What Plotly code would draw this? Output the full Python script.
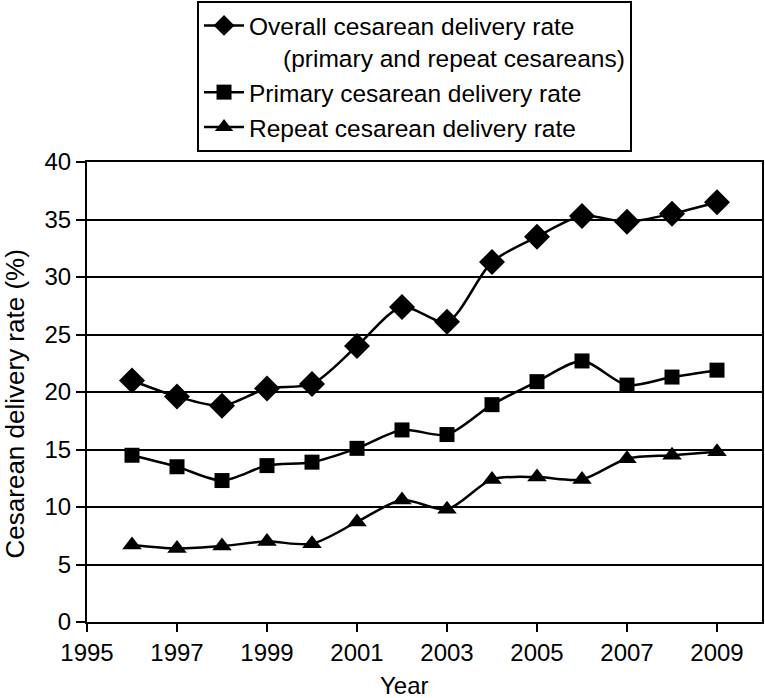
import plotly.graph_objects as go

years = [1996, 1997, 1998, 1999, 2000, 2001, 2002, 2003, 2004, 2005, 2006, 2007, 2008, 2009]
overall = [21.0, 19.6, 18.8, 20.3, 20.7, 24.0, 27.4, 26.1, 31.3, 33.5, 35.3, 34.8, 35.5, 36.5]
primary = [14.5, 13.5, 12.3, 13.6, 13.9, 15.1, 16.7, 16.3, 18.9, 20.9, 22.7, 20.6, 21.3, 21.9]
repeat = [6.7, 6.4, 6.6, 7.0, 6.8, 8.7, 10.6, 9.8, 12.4, 12.6, 12.4, 14.2, 14.5, 14.8]

names = [
    "Overall cesarean delivery rate<br>" + "\u00a0" * 5 + "(primary and repeat cesareans)",
    "Primary cesarean delivery rate",
    "Repeat cesarean delivery rate",
]
x_title = "Year"
y_title = "Cesarean delivery rate (%)"

fig = go.Figure()
for vals, nm, sym, sz in [(overall, names[0], "diamond", 20),
                          (primary, names[1], "square", 15),
                          (repeat, names[2], "triangle-up", 17)]:
    fig.add_trace(go.Scatter(
        x=years, y=vals, name=nm, mode="lines+markers",
        line=dict(color="black", width=2.5, shape="spline", smoothing=0.8),
        marker=dict(symbol=sym, size=sz, color="black"),
    ))

font = "Liberation Sans, Arial, sans-serif"
fig.update_layout(
    width=765, height=698,
    margin=dict(l=87, r=3, t=162, b=76, autoexpand=False),
    paper_bgcolor="white", plot_bgcolor="white",
    font=dict(family=font, size=24, color="black"),
    showlegend=True,
    legend=dict(
        x=0.163, y=1.35, xanchor="left", yanchor="top",
        bordercolor="black", borderwidth=2, bgcolor="white",
        font=dict(size=24.5), tracegroupgap=0, itemwidth=40, valign="top",
    ),
    xaxis=dict(
        range=[1995, 2010], tickmode="linear", tick0=1995, dtick=2,
        showgrid=False, showline=True, linecolor="black", linewidth=2,
        mirror=True, ticks="outside", ticklen=8, tickwidth=2, tickcolor="black",
        tickfont=dict(size=24), zeroline=False, automargin=False,
    ),
    yaxis=dict(
        range=[0, 40], tickmode="linear", tick0=0, dtick=5,
        showgrid=True, gridcolor="black", gridwidth=2,
        showline=True, linecolor="black", linewidth=2, mirror=True,
        ticks="outside", ticklen=9, tickwidth=2, tickcolor="black",
        tickfont=dict(size=24), zeroline=False, automargin=False,
    ),
    annotations=[
        dict(text=x_title, xref="paper", yref="paper", x=0.47, y=-0.138,
             xanchor="center", yanchor="middle", showarrow=False,
             font=dict(size=24)),
        dict(text=y_title, xref="paper", yref="paper", x=-0.106, y=0.474,
             xanchor="center", yanchor="middle", showarrow=False, textangle=-90,
             font=dict(size=26)),
    ],
)

fig.write_html("out.html", config={"displayModeBar": False},
               post_script="document.body.style.margin='0px';")
